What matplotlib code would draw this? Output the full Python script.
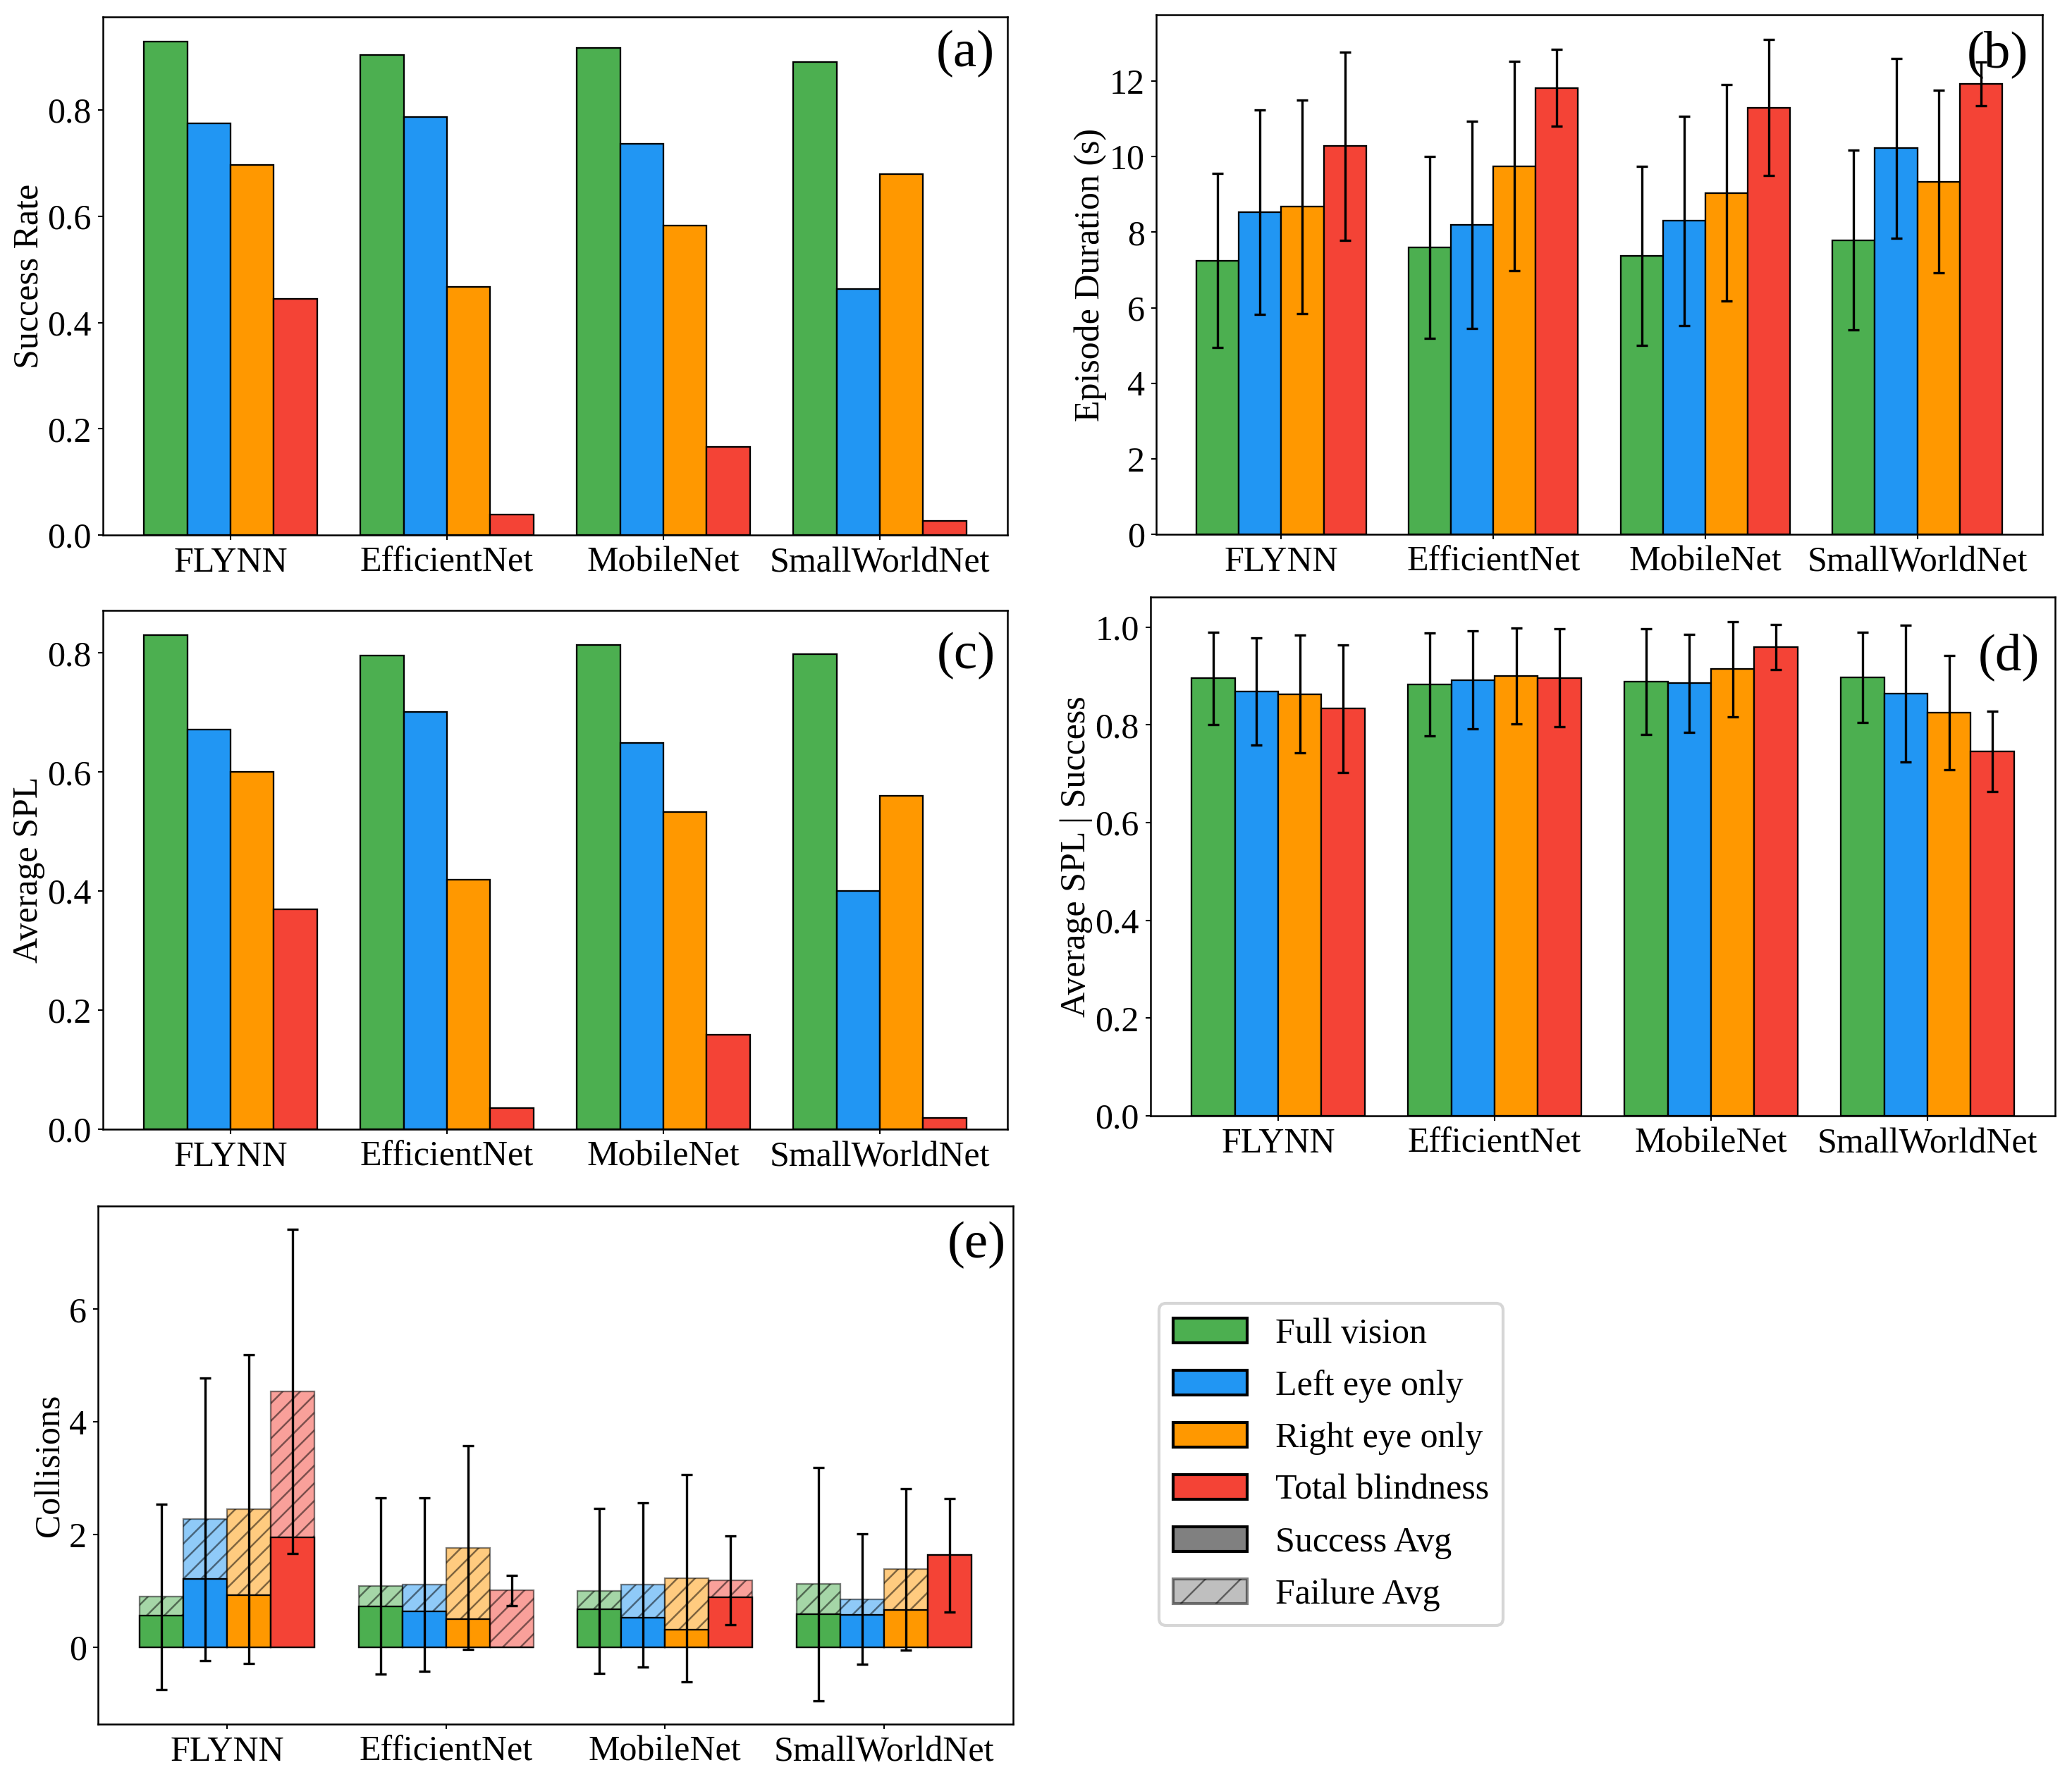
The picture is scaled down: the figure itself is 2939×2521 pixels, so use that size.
import numpy as np
import matplotlib
matplotlib.use("Agg")
import matplotlib.pyplot as plt
from matplotlib.patches import Patch
from matplotlib.ticker import MultipleLocator, FormatStrFormatter

plt.rcParams['font.family'] = ['Liberation Serif', 'DejaVu Serif']
plt.rcParams['font.size'] = 12
plt.rcParams['hatch.linewidth'] = 0.6

models = ["FLYNN", "EfficientNet", "MobileNet", "SmallWorldNet"]
conditions = ["Full vision", "Left eye only", "Right eye only", "Total blindness"]
colors = ["#4CAF50", "#2196F3", "#FF9800", "#F44336"]

# (a) success rate  [condition][model]
success_rate = [
    [0.929, 0.904, 0.917, 0.891],
    [0.775, 0.787, 0.737, 0.463],
    [0.697, 0.467, 0.583, 0.680],
    [0.444, 0.039, 0.166, 0.027],
]

# (b) episode duration mean and std
duration_mean = [
    [7.25, 7.59, 7.37, 7.79],
    [8.53, 8.19, 8.30, 10.22],
    [8.67, 9.75, 9.04, 9.34],
    [10.28, 11.82, 11.30, 11.92],
]
duration_std = [
    [2.30, 2.41, 2.37, 2.38],
    [2.70, 2.74, 2.77, 2.38],
    [2.83, 2.77, 2.87, 2.41],
    [2.49, 1.02, 1.80, 0.58],
]

# (c) average SPL
avg_spl = [
    [0.830, 0.796, 0.813, 0.798],
    [0.671, 0.701, 0.649, 0.400],
    [0.600, 0.419, 0.533, 0.560],
    [0.370, 0.035, 0.159, 0.019],
]

# (d) average SPL | success, mean and std
spl_succ_mean = [
    [0.895, 0.883, 0.888, 0.897],
    [0.868, 0.892, 0.885, 0.864],
    [0.863, 0.900, 0.914, 0.825],
    [0.833, 0.896, 0.959, 0.746],
]
spl_succ_std = [
    [0.095, 0.105, 0.108, 0.092],
    [0.110, 0.100, 0.100, 0.140],
    [0.120, 0.098, 0.097, 0.117],
    [0.130, 0.100, 0.046, 0.082],
]

# (e) collisions: success average, failure average, failure std
coll_success = [
    [0.557, 0.729, 0.676, 0.583],
    [1.213, 0.643, 0.524, 0.570],
    [0.922, 0.504, 0.318, 0.663],
    [1.949, 0.000, 0.888, 1.635],
]
coll_failure = [
    [0.895, 1.090, 1.000, 1.124],
    [2.275, 1.112, 1.108, 0.855],
    [2.456, 1.770, 1.227, 1.386],
    [4.540, 1.008, 1.187, 1.635],
]
coll_failure_std = [
    [1.645, 1.565, 1.462, 2.070],
    [2.510, 1.535, 1.460, 1.160],
    [2.740, 1.810, 1.843, 1.432],
    [2.874, 0.272, 0.789, 1.005],
]

W, H = 2939, 2521
DPI = 300
fig = plt.figure(figsize=(W / DPI, H / DPI), dpi=DPI)


def add_ax(l, r, t, b):
    return fig.add_axes([l / W, 1 - b / H, (r - l) / W, (b - t) / H])


bar_w = 0.2
x = np.arange(len(models))
edge_lw = 0.55
err_kw = dict(fmt='none', ecolor='black', elinewidth=0.8, capsize=2.0, capthick=0.8, zorder=5)


def style(ax, ylabel, step):
    ax.set_xticks(x)
    ax.set_xticklabels(models)
    ax.set_ylabel(ylabel, labelpad=0.8)
    ax.yaxis.set_major_locator(MultipleLocator(step))
    ax.tick_params(length=1.7, width=0.5, pad=2.2, labelsize=12)
    for s in ax.spines.values():
        s.set_linewidth(0.6)


def simple_bars(ax, vals, errs=None):
    for i in range(4):
        xs = x + (i - 1.5) * bar_w
        ax.bar(xs, vals[i], bar_w, color=colors[i], edgecolor='black', linewidth=edge_lw)
        if errs is not None:
            ax.errorbar(xs, vals[i], yerr=errs[i], **err_kw)


ax_a = add_ax(146, 1429, 24, 759)
simple_bars(ax_a, success_rate)
style(ax_a, "Success Rate", 0.2)
ax_a.yaxis.set_major_formatter(FormatStrFormatter('%.1f'))

ax_b = add_ax(1640, 2897, 21, 758)
simple_bars(ax_b, duration_mean, duration_std)
style(ax_b, "Episode Duration (s)", 2)

ax_c = add_ax(146, 1429, 866, 1602)
simple_bars(ax_c, avg_spl)
style(ax_c, "Average SPL", 0.2)
ax_c.yaxis.set_major_formatter(FormatStrFormatter('%.1f'))

ax_d = add_ax(1632, 2915, 847, 1583)
simple_bars(ax_d, spl_succ_mean, spl_succ_std)
style(ax_d, "Average SPL | Success", 0.2)
ax_d.yaxis.set_major_formatter(FormatStrFormatter('%.1f'))

ax_e = add_ax(139, 1437, 1711, 2446)
for i in range(4):
    xs = x + (i - 1.5) * bar_w
    ax_e.bar(xs, coll_failure[i], bar_w, color=colors[i], alpha=0.5, hatch='////',
             edgecolor='black', linewidth=edge_lw)
    ax_e.bar(xs, coll_success[i], bar_w, color=colors[i], edgecolor='black', linewidth=edge_lw)
    ax_e.errorbar(xs, coll_failure[i], yerr=coll_failure_std[i], **err_kw)
style(ax_e, "Collisions", 2)

# panel labels
for lbl, (rx, ty) in zip(["(a)", "(b)", "(c)", "(d)", "(e)"],
                         [(1411, 43), (2877, 43), (1412, 897), (2893, 898), (1427, 1733)]):
    fig.text(rx / W, 1 - ty / H, lbl, ha='right', va='top', fontsize=18)

handles = [Patch(facecolor=c, edgecolor='black', label=l) for c, l in zip(colors, conditions)]
handles.append(Patch(facecolor='gray', edgecolor='black', label='Success Avg'))
handles.append(Patch(facecolor='gray', edgecolor='black', alpha=0.5, hatch='//', label='Failure Avg'))
fig.legend(handles=handles, loc='upper left', bbox_to_anchor=(1644 / W, 1 - 1849 / H),
           borderaxespad=0, fontsize=12, handlelength=2.1, labelspacing=0.55)

fig.savefig("out.png", dpi=DPI)
